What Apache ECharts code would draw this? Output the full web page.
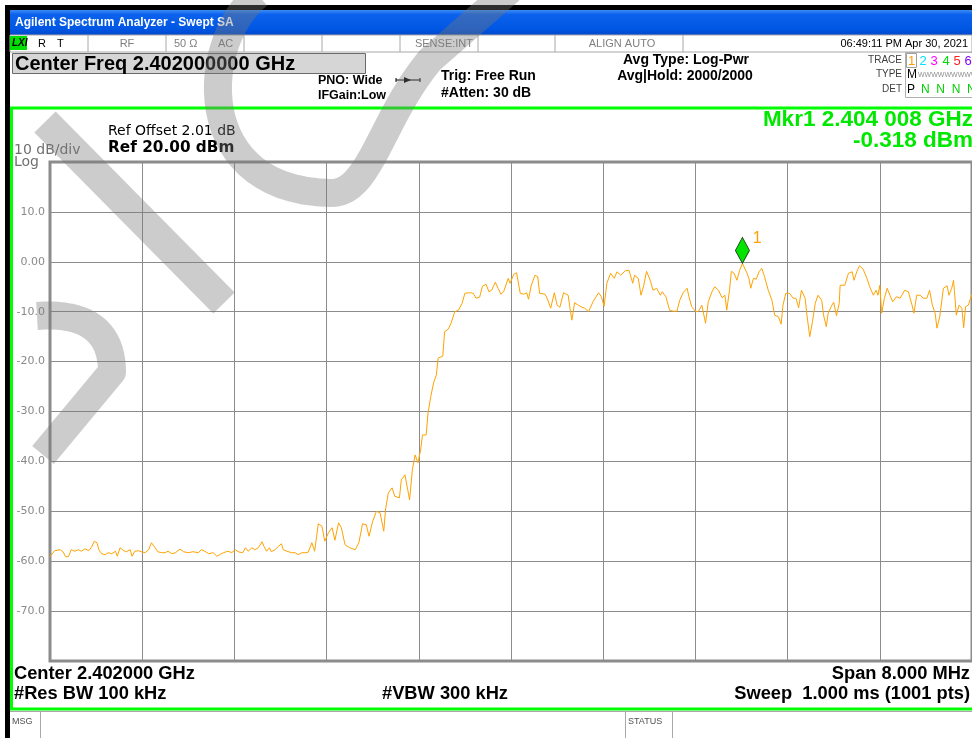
<!DOCTYPE html>
<html>
<head>
<meta charset="utf-8">
<title>Swept SA</title>
<script src="https://cdn.jsdelivr.net/npm/echarts@6/dist/echarts.min.js"></script>
<style>
  html, body { margin: 0; padding: 0; background: #ffffff; }
  #chart { width: 972px; height: 738px; }
</style>
</head>
<body>
<div id="chart"></div>
<script>
// Trace 1 (Log-Pwr average), sweep point index 0..1000 across 2.398 - 2.406 GHz
const pointIdx = [
  0, 2, 5, 11, 14, 17, 20, 23, 27, 31, 34, 38, 42, 45, 48, 51, 53, 56, 60, 63,
  67, 71, 73, 76, 80, 83, 87, 89, 92, 96, 99, 103, 107, 110, 114, 117, 121, 125, 128, 132,
  136, 141, 145, 150, 155, 161, 164, 168, 172, 177, 181, 184, 188, 193, 197, 201, 204, 209, 212, 215,
  219, 222, 226, 230, 232, 235, 238, 240, 244, 248, 251, 253, 257, 262, 266, 269, 273, 277, 280, 284,
  287, 291, 295, 298, 302, 306, 309, 313, 316, 320, 325, 331, 335, 339, 343, 346, 350, 354, 358, 362,
  364, 367, 371, 374, 379, 381, 385, 388, 390, 393, 396, 399, 402, 404, 408, 410, 413, 416, 419, 421,
  426, 428, 432, 435, 437, 439, 443, 447, 450, 456, 459, 462, 466, 469, 473, 476, 479, 483, 486, 489,
  492, 497, 499, 503, 506, 510, 514, 517, 519, 522, 526, 529, 531, 537, 540, 543, 547, 550, 553, 557,
  562, 564, 566, 569, 573, 577, 580, 584, 589, 595, 598, 601, 604, 608, 612, 615, 619, 624, 628, 632,
  634, 638, 641, 644, 647, 651, 654, 658, 662, 664, 668, 672, 676, 680, 683, 687, 691, 693, 696, 700,
  703, 707, 709, 711, 714, 718, 721, 725, 729, 732, 734, 737, 739, 742, 745, 748, 751, 756, 758, 760,
  763, 766, 769, 772, 775, 779, 783, 786, 790, 793, 795, 798, 802, 806, 809, 812, 815, 819, 821, 824,
  827, 830, 833, 837, 839, 842, 844, 848, 850, 853, 856, 857, 862, 866, 870, 872, 875, 878, 882, 886,
  889, 893, 896, 898, 900, 902, 905, 908, 911, 914, 918, 922, 927, 931, 935, 937, 940, 944, 947, 951,
  954, 957, 960, 962, 965, 969, 973, 975, 978, 980, 981, 983, 986, 989, 991, 993, 996, 1000
];
const levelDbm = [
  -59.1, -58.7, -57.9, -57.7, -58.1, -59.1, -59.1, -57.7, -58.0, -57.7, -58.0, -57.5, -57.9, -57.2, -56.0, -56.3, -57.7, -58.5, -58.7, -58.3,
  -58.5, -58.0, -59.0, -57.3, -57.9, -58.1, -57.7, -59.0, -58.0, -57.9, -58.1, -58.3, -57.7, -56.3, -57.3, -58.1, -58.3, -58.3, -58.0, -58.5,
  -58.3, -57.6, -58.1, -58.3, -58.1, -58.3, -57.7, -58.0, -58.5, -58.3, -59.0, -58.7, -58.3, -58.0, -58.3, -57.7, -58.1, -58.3, -57.3, -58.0,
  -57.3, -57.7, -57.3, -56.1, -57.0, -58.0, -57.3, -58.1, -57.7, -57.0, -56.5, -57.7, -58.0, -58.3, -58.3, -58.7, -58.3, -58.3, -58.2, -56.3,
  -58.0, -52.5, -53.0, -56.0, -54.3, -53.3, -55.8, -52.3, -53.3, -56.7, -57.3, -57.7, -56.3, -52.5, -52.7, -55.0, -52.0, -50.0, -50.3, -54.0,
  -49.5, -46.3, -45.3, -47.0, -47.3, -43.7, -42.7, -45.7, -47.7, -41.7, -38.7, -40.3, -37.7, -34.7, -34.7, -30.3, -27.0, -24.3, -22.7, -19.3,
  -18.9, -14.0, -13.5, -12.3, -12.0, -10.0, -9.7, -8.3, -6.3, -6.2, -6.3, -7.3, -7.1, -4.9, -4.5, -6.0, -5.7, -4.1, -5.3, -6.5,
  -6.0, -3.3, -4.3, -2.5, -2.2, -6.3, -6.5, -6.2, -7.5, -4.7, -2.7, -3.0, -6.3, -6.5, -7.7, -9.3, -6.2, -8.7, -9.1, -6.2,
  -6.7, -9.3, -11.7, -8.2, -8.7, -9.1, -9.3, -10.0, -8.0, -6.2, -7.0, -8.9, -4.3, -2.3, -3.3, -2.0, -2.7, -1.8, -1.7, -4.3,
  -2.7, -3.3, -6.7, -4.7, -1.9, -3.7, -5.7, -5.3, -6.7, -6.0, -7.0, -9.7, -9.9, -9.9, -7.7, -6.1, -5.3, -7.0, -9.0, -9.9,
  -10.0, -8.7, -8.5, -12.3, -8.0, -6.0, -5.0, -5.7, -7.2, -6.7, -9.7, -5.7, -1.9, -2.3, -3.7, -1.7, -0.318, -2.3, -3.3, -5.3,
  -3.3, -3.5, -2.0, -1.3, -3.0, -5.7, -7.7, -10.7, -11.0, -12.5, -8.7, -6.3, -6.3, -7.3, -7.3, -9.2, -5.7, -7.3, -10.7, -15.0,
  -12.0, -8.3, -6.7, -7.7, -10.7, -13.0, -10.3, -8.7, -8.1, -10.8, -8.3, -4.7, -4.7, -2.3, -2.0, -3.7, -2.0, -0.8, -1.5, -3.3,
  -5.0, -6.7, -5.7, -6.7, -4.7, -10.3, -7.3, -5.3, -6.7, -8.0, -7.0, -7.3, -5.7, -6.0, -8.7, -10.3, -6.7, -6.7, -7.3, -7.3,
  -5.7, -8.7, -10.3, -13.3, -11.0, -5.3, -4.8, -6.7, -5.3, -3.7, -6.0, -10.7, -8.7, -9.3, -13.2, -9.0, -8.7, -6.5
];

// Marker 1
const markerIdx = 751;
const markerDbm = -0.318;
const markerName = '1';

// Vertical scale: Ref 20.00 dBm, 10 dB/div, 10 divisions
const refLevel = 20;
const dbPerDiv = 10;
const yTickLabels = { 10: '10.0', 0: '0.00', '-10': '-10.0', '-20': '-20.0', '-30': '-30.0',
  '-40': '-40.0', '-50': '-50.0', '-60': '-60.0', '-70': '-70.0' };

const traceData = pointIdx.map((p, i) => [p, levelDbm[i]]);

const chart = echarts.init(document.getElementById('chart'), null, { renderer: 'canvas' });

const WM = 'rgba(120,120,120,0.38)';
const SANS = '"Liberation Sans", Arial, sans-serif';
const DEJA = '"DejaVu Sans", Verdana, sans-serif';

function txt(x, y, text, font, fill, align) {
  return {
    type: 'text', z: 20,
    style: { x: x, y: y, text: text, font: font, fill: fill || '#000',
      textAlign: align || 'left', textVerticalAlign: 'middle' }
  };
}
function rect(x, y, w, h, style, z) {
  return { type: 'rect', z: z || 5, shape: { x: x, y: y, width: w, height: h }, style: style };
}
function vline(x, y1, y2, color, w, z) {
  return { type: 'line', z: z || 6, shape: { x1: x, y1: y1, x2: x, y2: y2 },
    style: { stroke: color, lineWidth: w || 1 } };
}
function hline(y, x1, x2, color, w, z) {
  return { type: 'line', z: z || 6, shape: { x1: x1, y1: y, x2: x2, y2: y },
    style: { stroke: color, lineWidth: w || 1 } };
}
// sample a cubic Bezier so that several pieces can be joined into one stroke
function cubic(p0, c1, c2, p3, n) {
  const pts = [];
  for (let i = 0; i <= n; i++) {
    const t = i / n, u = 1 - t;
    pts.push([
      u * u * u * p0[0] + 3 * t * u * u * c1[0] + 3 * t * t * u * c2[0] + t * t * t * p3[0],
      u * u * u * p0[1] + 3 * t * u * u * c1[1] + 3 * t * t * u * c2[1] + t * t * t * p3[1]
    ]);
  }
  return pts;
}
function wmStroke(points, width) {
  return { type: 'polyline', z: 50, shape: { points: points },
    style: { stroke: WM, lineWidth: width, lineCap: 'butt', lineJoin: 'round', fill: null } };
}

const watermark = [
  wmStroke([[45, 122], [224, 303]], 30),
  wmStroke(cubic([37, 316], [87, 312], [112, 332], [112, 372], 20).concat([[43, 455]]), 28),
  wmStroke(cubic([258, -5], [200, 40], [190, 190], [330, 193], 30)
    .concat(cubic([330, 193], [370, 195], [380, 120], [430, 60], 20).slice(1))
    .concat([[510, -10]]), 28)
];

const chrome = [
  // window frame and title bar
  rect(5, 5, 967, 733, { fill: '#000' }, 1),
  rect(10, 10, 962, 728, { fill: '#fff' }, 2),
  rect(10, 10, 962, 25, {
    fill: new echarts.graphic.LinearGradient(0, 0, 0, 1, [
      { offset: 0, color: '#3b8cf6' }, { offset: 0.18, color: '#0c62ec' },
      { offset: 0.75, color: '#0057e4' }, { offset: 1, color: '#0048cc' }])
  }, 3),
  txt(15, 23, 'Agilent Spectrum Analyzer - Swept SA', 'bold 12px ' + SANS, '#fff'),

  // status bar
  rect(10, 35, 962, 17, { fill: '#fff', stroke: '#a8a8a8', lineWidth: 1 }, 4),
  rect(10, 36, 17, 14, { fill: '#00e000' }, 6),
  txt(12, 43.5, 'LXI', 'italic bold 10px ' + SANS, '#000'),
  txt(38, 43.5, 'R', '11px ' + SANS, '#000'),
  txt(57, 43.5, 'T', '11px ' + SANS, '#000'),
  vline(88, 35, 52, '#a8a8a8'), vline(166, 35, 52, '#a8a8a8'), vline(244, 35, 52, '#a8a8a8'),
  vline(322, 35, 52, '#a8a8a8'), vline(400, 35, 52, '#a8a8a8'), vline(478, 35, 52, '#a8a8a8'),
  vline(555, 35, 52, '#a8a8a8'), vline(683, 35, 52, '#a8a8a8'),
  txt(127, 43.5, 'RF', '11px ' + SANS, '#808080', 'center'),
  txt(174, 43.5, '50 Ω', '11px ' + SANS, '#808080'),
  txt(218, 43.5, 'AC', '11px ' + SANS, '#808080'),
  txt(473, 43.5, 'SENSE:INT', '11px ' + SANS, '#808080', 'right'),
  txt(622, 43.5, 'ALIGN AUTO', '11px ' + SANS, '#808080', 'center'),
  txt(968, 43.5, '06:49:11 PM Apr 30, 2021', '11px ' + SANS, '#000', 'right'),

  // center frequency entry
  rect(12.5, 53.5, 353, 20, { fill: '#d6d6d6', stroke: '#6a6a6a', lineWidth: 1 }, 6),
  txt(15, 64, 'Center Freq 2.402000000 GHz', 'bold 20px ' + SANS, '#000'),

  // acquisition settings
  txt(318, 81, 'PNO: Wide', 'bold 12.5px ' + SANS, '#000'),
  txt(318, 96, 'IFGain:Low', 'bold 12.5px ' + SANS, '#000'),
  hline(80, 396, 420, '#000', 1, 20),
  { type: 'polygon', z: 20, shape: { points: [[404, 77], [404, 83], [411, 80]] }, style: { fill: '#000' } },
  vline(396, 78, 82, '#000', 1, 20), vline(420, 78, 82, '#000', 1, 20),
  txt(441, 76, 'Trig: Free Run', 'bold 14px ' + SANS, '#000'),
  txt(441, 93, '#Atten: 30 dB', 'bold 14px ' + SANS, '#000'),
  txt(686, 60, 'Avg Type: Log-Pwr', 'bold 14px ' + SANS, '#000', 'center'),
  txt(685, 76, 'Avg|Hold: 2000/2000', 'bold 14px ' + SANS, '#000', 'center'),

  // trace table
  txt(902, 60, 'TRACE', '10px ' + SANS, '#404040', 'right'),
  txt(902, 74.5, 'TYPE', '10px ' + SANS, '#404040', 'right'),
  txt(902, 89, 'DET', '10px ' + SANS, '#404040', 'right'),
  rect(905.5, 52.5, 80, 45, { fill: 'none', stroke: '#b0b0b0', lineWidth: 1 }, 6),
  rect(906.5, 53.5, 10, 14, { fill: 'none', stroke: '#a0a0a0', lineWidth: 1 }, 7),
  txt(911.5, 61, '1', '13px ' + SANS, '#ff9c00', 'center'),
  txt(923, 61, '2', '13px ' + SANS, '#00e0ff', 'center'),
  txt(934, 61, '3', '13px ' + SANS, '#ff00ff', 'center'),
  txt(946, 61, '4', '13px ' + SANS, '#00dc00', 'center'),
  txt(957, 61, '5', '13px ' + SANS, '#ff2020', 'center'),
  txt(968, 61, '6', '13px ' + SANS, '#8000ff', 'center'),
  txt(907, 75, 'M', '12px ' + SANS, '#000'),
  txt(918, 75, 'WWWWWWWWWW', '7px ' + SANS, '#909090'),
  txt(907, 89.5, 'P', '12px ' + SANS, '#000'),
  txt(921, 89.5, 'N  N  N  N  N', '12px ' + SANS, '#00d000'),

  // measurement frame
  rect(11.5, 108, 975, 601, { fill: 'none', stroke: '#00ff00', lineWidth: 3 }, 8),
  txt(108, 131, 'Ref Offset 2.01 dB', '14px ' + DEJA, '#000'),
  txt(108, 148, 'Ref 20.00 dBm', 'bold 15.3px ' + DEJA, '#000'),
  txt(14, 150, '10 dB/div', '14px ' + DEJA, '#707070'),
  txt(14, 162, 'Log', '14px ' + DEJA, '#707070'),
  txt(973, 120, 'Mkr1 2.404 008 GHz', 'bold 22.5px ' + SANS, '#00e800', 'right'),
  txt(973, 141, '-0.318 dBm', 'bold 22.5px ' + SANS, '#00e800', 'right'),

  // annotation under the graticule
  txt(14, 674, 'Center 2.402000 GHz', 'bold 18.3px ' + SANS, '#000'),
  txt(14, 694, '#Res BW 100 kHz', 'bold 18.3px ' + SANS, '#000'),
  txt(445, 694, '#VBW 300 kHz', 'bold 18.3px ' + SANS, '#000', 'center'),
  txt(970, 674, 'Span 8.000 MHz', 'bold 18.3px ' + SANS, '#000', 'right'),
  txt(970, 694, 'Sweep  1.000 ms (1001 pts)', 'bold 18.3px ' + SANS, '#000', 'right'),

  // message / status bar
  hline(711.5, 10, 972, '#a8a8a8', 1, 6),
  txt(12, 722, 'MSG', '9px ' + SANS, '#505050'),
  vline(40.5, 712, 738, '#a8a8a8'),
  vline(625.5, 712, 738, '#a8a8a8'),
  vline(672.5, 712, 738, '#a8a8a8'),
  txt(628, 722, 'STATUS', '9px ' + SANS, '#505050')
].concat(watermark);

const option = {
  animation: false,
  backgroundColor: '#ffffff',
  grid: {
    left: 50, top: 162, width: 922, height: 499,
    show: true, borderColor: '#8c8c8c', borderWidth: 3, backgroundColor: '#ffffff', z: 10
  },
  xAxis: {
    type: 'value', min: 0, max: 1000, interval: 100, z: 10,
    axisLine: { show: false }, axisTick: { show: false }, axisLabel: { show: false },
    splitLine: { show: true, lineStyle: { color: '#8c8c8c', width: 1 } }
  },
  yAxis: {
    type: 'value', min: refLevel - 10 * dbPerDiv, max: refLevel, interval: dbPerDiv, z: 10,
    axisLine: { show: false }, axisTick: { show: false },
    axisLabel: {
      margin: 5, color: '#8a8a8a', fontFamily: 'DejaVu Sans', fontSize: 11,
      formatter: v => (yTickLabels[String(v)] || '')
    },
    splitLine: { show: true, lineStyle: { color: '#8c8c8c', width: 1 } }
  },
  series: [{
    name: 'Trace 1', type: 'line', z: 12,
    data: traceData,
    showSymbol: false, symbol: 'none',
    lineStyle: { color: '#ffa200', width: 1 },
    clip: true
  }, {
    name: 'Marker ' + markerName, type: 'scatter', z: 14,
    data: [[markerIdx, markerDbm]],
    symbol: 'diamond', symbolSize: [14, 26], symbolOffset: [0, -13],
    itemStyle: { color: '#00e400', borderColor: '#24401f', borderWidth: 1, opacity: 1 },
    label: { show: true, formatter: markerName, position: 'right', distance: 3, offset: [0, -12],
      color: '#ffa200', fontSize: 16, fontFamily: 'Liberation Sans' }
  }],
  graphic: chrome
};
chart.setOption(option);
</script>
</body>
</html>
